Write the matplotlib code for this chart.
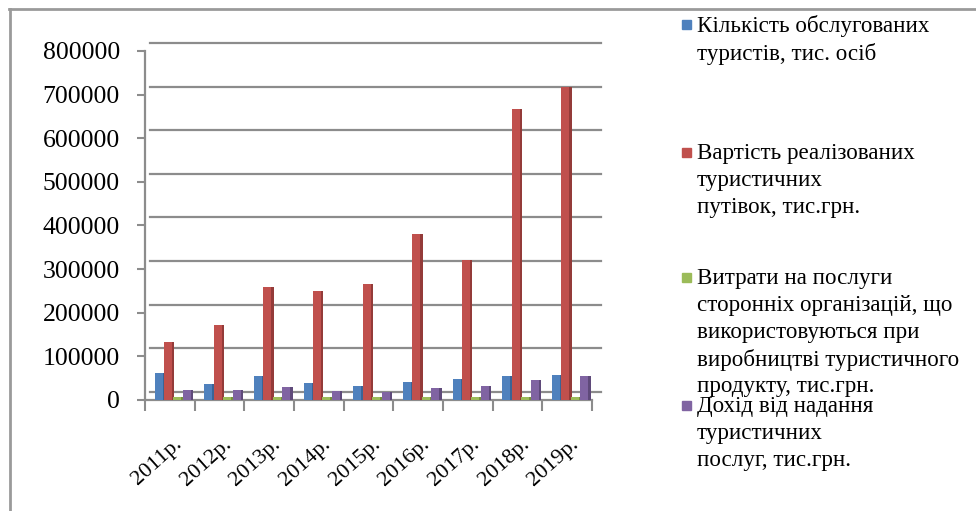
import numpy as np
import matplotlib.pyplot as plt
from matplotlib.patches import Rectangle
from matplotlib.lines import Line2D
import matplotlib.transforms as mtransforms

plt.rcParams['font.family'] = ['Liberation Serif', 'DejaVu Serif']

years = ['2011р.', '2012р.', '2013р.', '2014р.', '2015р.', '2016р.', '2017р.', '2018р.', '2019р.']
tourists = [61000, 36000, 55000, 40000, 31000, 41000, 48000, 56000, 57000]
vouchers = [132000, 173000, 259000, 249000, 265000, 381000, 322000, 666000, 717000]
third_party = [7000, 7000, 7000, 7000, 7000, 7000, 7000, 7000, 7000]
income = [23000, 24000, 29000, 21000, 19000, 27000, 33000, 46000, 54000]

series = [tourists, vouchers, third_party, income]
names = ['Кількість обслугованих\nтуристів, тис. осіб',
         'Вартість реалізованих\nтуристичних\nпутівок, тис.грн.',
         'Витрати на послуги\nсторонніх організацій, що\nвикористовуються при\nвиробництві туристичного\nпродукту, тис.грн.',
         'Дохід від надання\nтуристичних\nпослуг, тис.грн.']
colors = ['#4F81BD', '#C0504D', '#9BBB59', '#8064A2']
sides = ['#3A6496', '#943B39', '#76913F', '#5F4A7A']

W, H = 976, 511
fig = plt.figure(figsize=(W / 100, H / 100), dpi=100)
ax = fig.add_axes([145 / W, 1 - 400 / H, (592 - 145) / W, (400 - 51) / H])

# outer frame (only top and left visible)
fig.add_artist(Line2D([9 / W, 1], [1 - 9 / H, 1 - 9 / H], color='#9a9a9a', lw=2))
fig.add_artist(Line2D([10 / W, 10 / W], [0, 1 - 9 / H], color='#9a9a9a', lw=2))

x = np.arange(len(years))
step = 0.19
face = 0.16
depth = 0.05
for i, (vals, c, sc) in enumerate(zip(series, colors, sides)):
    pos = x + (i - 1.5) * step + 0.058
    ax.bar(pos + face / 2 + depth / 2, vals, width=depth, color=sc, zorder=3 + 2 * i)
    ax.bar(pos, vals, width=face, color=c, zorder=4 + 2 * i)

# back wall gridlines, shifted up/right for the 3D look
back = mtransforms.offset_copy(ax.transData, fig=fig, x=5, y=8, units='dots')
ticks = np.arange(0, 800001, 100000)
for t in ticks:
    ax.plot([-0.5, 8.58], [t, t], color='#8c8c8c', lw=1.6, transform=back, zorder=1, clip_on=False)
ax.plot([-0.5, 8.5], [0, 0], color='#8c8c8c', lw=1.6, zorder=2, clip_on=False)

ax.set_xlim(-0.5, 8.5)
ax.set_ylim(0, 800000)
ax.set_yticks(ticks)
ax.set_yticklabels([str(t) for t in ticks], fontsize=18.5)
ax.tick_params(axis='y', length=6, width=1.5, color='#8c8c8c', pad=12)

ax.set_xticks(x)
ax.set_xticklabels(years, fontsize=16, rotation=42, ha='right', va='top',
                   rotation_mode='anchor')
ax.tick_params(axis='x', length=0, pad=25)
shift = mtransforms.ScaledTranslation(0.03, 0, fig.dpi_scale_trans)
for lbl in ax.get_xticklabels():
    lbl.set_transform(lbl.get_transform() + shift)
ax.set_xticks(np.arange(-0.5, 9, 1), minor=True)
ax.tick_params(axis='x', which='minor', length=8, width=1.5, color='#8c8c8c')

for s in ['top', 'right', 'bottom']:
    ax.spines[s].set_visible(False)
ax.spines['left'].set_color('#8c8c8c')
ax.spines['left'].set_linewidth(1.6)

# legend, placed like the original
legend_y = [25, 153, 278, 406]
for name, c, y in zip(names, colors, legend_y):
    fig.add_artist(Rectangle((682 / W, 1 - (y + 4) / H), 9 / W, 9 / H, color=c))
    fig.text(697 / W, 1 - (y - 10) / H, name, fontsize=16.6, va='top', ha='left',
             linespacing=1.36)

fig.savefig('out.png', dpi=100)
